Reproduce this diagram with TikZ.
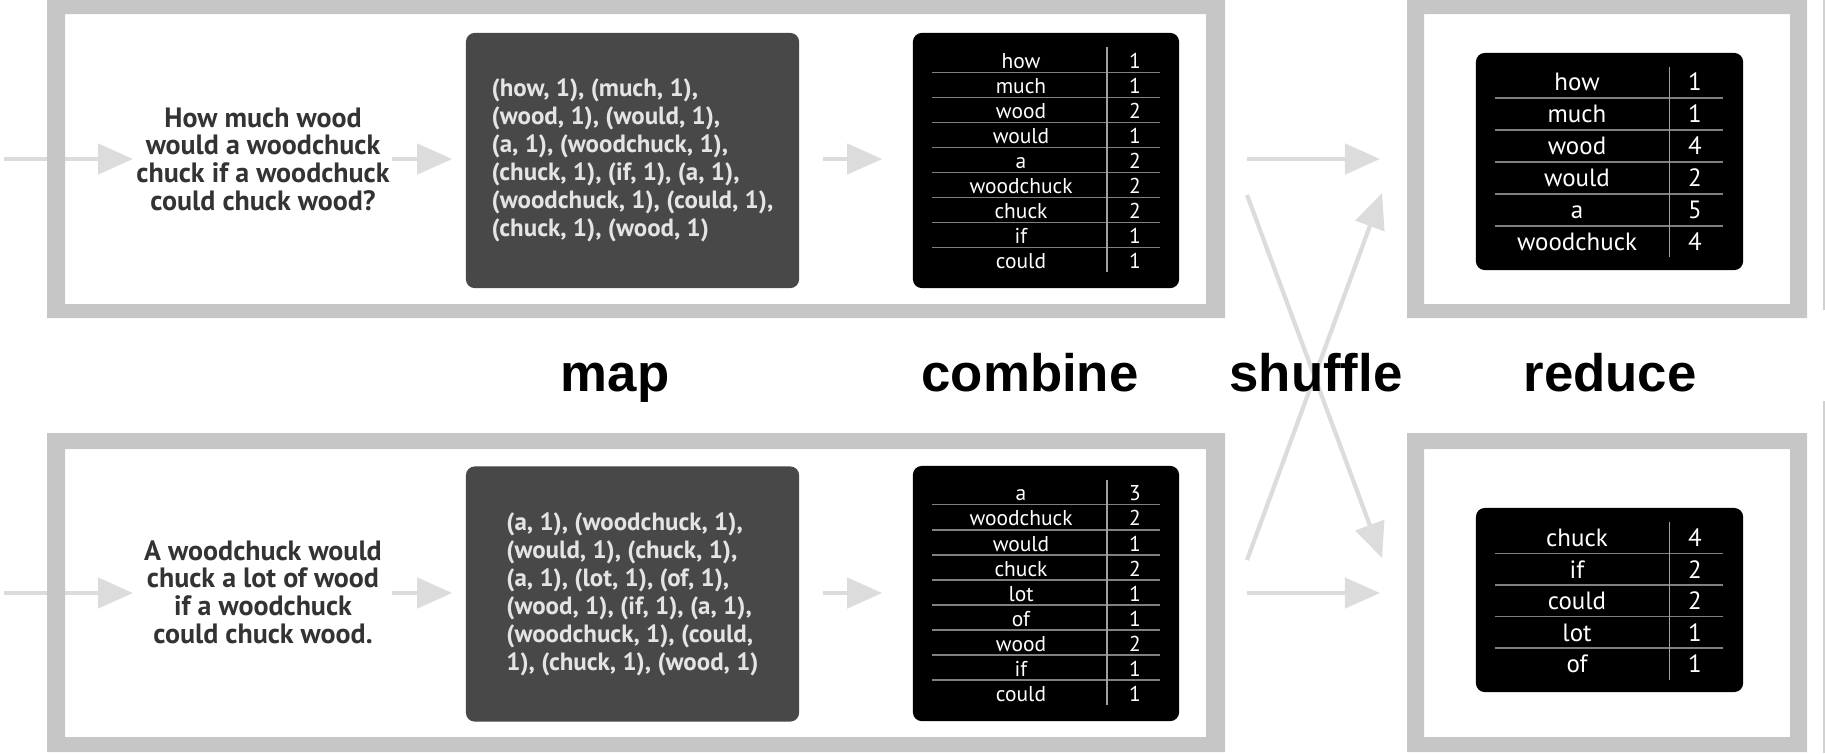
\documentclass[tikz,border=0pt]{standalone}
\usepackage{fontspec}
\setmainfont{PT Sans}
\newfontfamily\labelfont{Liberation Sans}
\usetikzlibrary{arrows.meta}

\definecolor{framegray}{HTML}{C6C6C6}
\definecolor{flowgray}{HTML}{DCDCDC}
\definecolor{mapgray}{HTML}{484848}
\definecolor{textdark}{HTML}{333333}
\definecolor{pairtext}{HTML}{E4E4E4}
\definecolor{rulegray}{HTML}{808080}
\definecolor{splitgray}{HTML}{A0A0A0}

\tikzset{
  flow/.style={draw=flowgray, line width=1.2pt, -{Triangle[length=10pt,width=8.6pt]}},
  sentence/.style={align=center, text=textdark, inner sep=0pt,
    font=\bfseries\fontsize{7.95}{7.85}\selectfont},
  mappanel/.style={fill=mapgray, rounded corners=2.5pt, inner sep=0pt,
    align=left, text=pairtext, font=\bfseries\fontsize{7.1}{7.97}\selectfont},
  tablepanel/.style={fill=black, rounded corners=2.5pt, inner sep=0pt},
  cellsmall/.style={text=white, inner sep=0pt, text height=0.7em, text depth=0.2em,
    font=\fontsize{6.1}{7}\selectfont},
  cellbig/.style={text=white, inner sep=0pt, text height=0.7em, text depth=0.2em,
    font=\fontsize{7.1}{8}\selectfont},
  tablerule/.style={draw=rulegray, line width=0.5pt},
  tablesplit/.style={draw=splitgray, line width=0.3pt},
  stagelabel/.style={anchor=base, inner sep=0pt, text=black,
    font=\labelfont\bfseries\fontsize{15}{18}\selectfont}
}

\begin{document}
\begin{tikzpicture}[x=0.01cm, y=-0.01cm]
\useasboundingbox (0,0) rectangle (1825,753);

% sentences
\node[sentence] (s1) at (263,159) {How much wood\\would a woodchuck\\chuck if a woodchuck\\could chuck wood?};
\node[sentence] (s2) at (263,592) {A woodchuck would\\chuck a lot of wood\\if a woodchuck\\could chuck wood.};

% map output
\node[mappanel, minimum width=3.33cm, minimum height=2.55cm] (m1) at (632.5,160.5)
  {(how, 1), (much, 1),\\(wood, 1), (would, 1),\\(a, 1), (woodchuck, 1),\\(chuck, 1), (if, 1), (a, 1),\\(woodchuck, 1), (could, 1),\\(chuck, 1), (wood, 1)};
\node[mappanel, minimum width=3.33cm, minimum height=2.55cm] (m2) at (632.5,594)
  {(a, 1), (woodchuck, 1),\\(would, 1), (chuck, 1),\\(a, 1), (lot, 1), (of, 1),\\(wood, 1), (if, 1), (a, 1),\\(woodchuck, 1), (could,\\1), (chuck, 1), (wood, 1)};

% combine tables
\node[tablepanel, minimum width=2.66cm, minimum height=2.55cm] (c1) at (1046,160.5) {};
\node[tablepanel, minimum width=2.66cm, minimum height=2.55cm] (c2) at (1046,593.5) {};
\foreach \w/\n [count=\i] in {how/1, much/1, wood/2, would/1, a/2, woodchuck/2, chuck/2, if/1, could/1} {
  \node[cellsmall] (c1w\i) at (1021,{60+25*(\i-1)}) {\w};
  \node[cellsmall] (c1n\i) at (1135,{60+25*(\i-1)}) {\n};
}
\foreach \w/\n [count=\i] in {a/3, woodchuck/2, would/1, chuck/2, lot/1, of/1, wood/2, if/1, could/1} {
  \node[cellsmall] (c2w\i) at (1021,{492+25.1*(\i-1)}) {\w};
  \node[cellsmall] (c2n\i) at (1135,{492+25.1*(\i-1)}) {\n};
}
\foreach \i in {1,...,8} {
  \draw[tablerule] (932,{72.5+25*(\i-1)}) -- (1160,{72.5+25*(\i-1)});
  \draw[tablerule] (932,{504.5+25.1*(\i-1)}) -- (1160,{504.5+25.1*(\i-1)});
}
\draw[tablesplit] (1107,47) -- (1107,272);
\draw[tablesplit] (1107,480) -- (1107,705);

% reduce tables
\node[tablepanel, minimum width=2.67cm, minimum height=2.17cm] (r1) at (1609.5,161.5) {};
\node[tablepanel, minimum width=2.67cm, minimum height=1.84cm] (r2) at (1609.5,600) {};
\foreach \w/\n [count=\i] in {how/1, much/1, wood/4, would/2, a/5, woodchuck/4} {
  \node[cellbig] (r1w\i) at (1577,{82+32*(\i-1)}) {\w};
  \node[cellbig] (r1n\i) at (1695,{82+32*(\i-1)}) {\n};
}
\foreach \w/\n [count=\i] in {chuck/4, if/2, could/2, lot/1, of/1} {
  \node[cellbig] (r2w\i) at (1577,{538+31.5*(\i-1)}) {\w};
  \node[cellbig] (r2n\i) at (1695,{538+31.5*(\i-1)}) {\n};
}
\foreach \i in {1,...,5} \draw[tablerule] (1495,{98+32*(\i-1)}) -- (1723,{98+32*(\i-1)});
\foreach \i in {1,...,4} \draw[tablerule] (1495,{553.5+31.5*(\i-1)}) -- (1723,{553.5+31.5*(\i-1)});
\draw[tablesplit] (1669,67) -- (1669,257);
\draw[tablesplit] (1669,522) -- (1669,680);

% flow arrows
\coordinate (inA) at (4,159);
\coordinate (inB) at (4,593);
\coordinate (gA) at (392,159);
\coordinate (gB) at (392,593);
\draw[flow] (inA) -- (133,159) coordinate (inAend);
\draw[flow] (inB) -- (133,593) coordinate (inBend);
\draw[flow, shorten >=0.13cm] (gA) -- (m1.west |- inA);
\draw[flow, shorten >=0.13cm] (gB) -- (m2.west |- inB);
\draw[flow, shorten <=0.23cm, shorten >=0.30cm] (m1.east |- inA) -- (c1.west |- inA);
\draw[flow, shorten <=0.23cm, shorten >=0.30cm] (m2.east |- inB) -- (c2.west |- inB);

% shuffle arrows
\coordinate (sh1) at (1247,159);
\coordinate (sh2) at (1380,159);
\coordinate (sh3) at (1247,593);
\coordinate (sh4) at (1380,593);
\coordinate (sx1) at (1247,195);
\coordinate (sx2) at (1382,558);
\coordinate (sx3) at (1247,560);
\coordinate (sx4) at (1382,193);
\draw[flow] (sh1) -- (sh2);
\draw[flow] (sh3) -- (sh4);
\draw[flow] (sx1) -- (sx2);
\draw[flow] (sx3) -- (sx4);

% frames
\fill[framegray, even odd rule] (47,-1) rectangle (1225,318) (65,14) rectangle (1206,304);
\fill[framegray, even odd rule] (47,433) rectangle (1225,752) (65,449) rectangle (1206,737);
\fill[framegray, even odd rule] (1407,-1) rectangle (1807,318) (1424,14) rectangle (1790,304);
\fill[framegray, even odd rule] (1407,433) rectangle (1807,752) (1424,449) rectangle (1790,737);
\draw[framegray!80, line width=0.4pt] (1824,0) -- (1824,310);
\draw[framegray!80, line width=0.4pt] (1824,401) -- (1824,753);

% stage labels
\node[stagelabel] (lmap) at (615,391) {map};
\node[stagelabel] (lcombine) at (1030,391) {combine};
\node[stagelabel] (lshuffle) at (1316,391) {shuffle};
\node[stagelabel] (lreduce) at (1610,391) {reduce};
\end{tikzpicture}
\end{document}
